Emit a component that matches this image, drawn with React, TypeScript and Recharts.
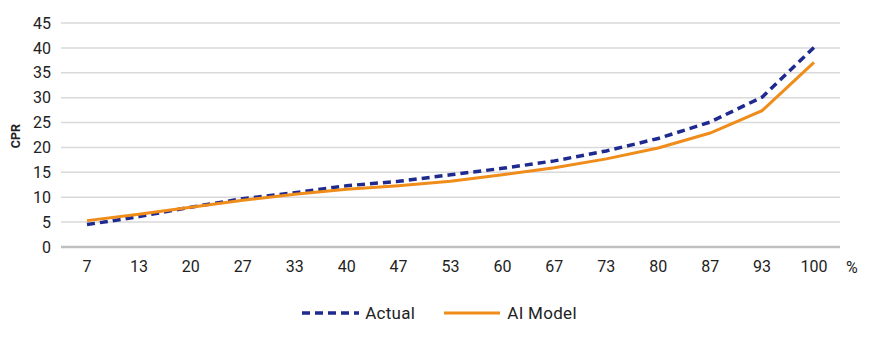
import React from 'react';
import { CartesianGrid, Label, Legend, Line, LineChart, XAxis, YAxis } from 'recharts';

const percentiles = ['7', '13', '20', '27', '33', '40', '47', '53', '60', '67', '73', '80', '87', '93', '100'];
const actual = [4.5, 6.1, 8.0, 9.7, 10.9, 12.3, 13.2, 14.5, 15.8, 17.3, 19.3, 21.8, 25.1, 30.1, 40.1];
const aiModel = [5.3, 6.6, 8.0, 9.4, 10.6, 11.6, 12.3, 13.2, 14.5, 15.9, 17.7, 19.9, 22.9, 27.4, 37.1];
const yTicks = [0, 5, 10, 15, 20, 25, 30, 35, 40, 45];

const navy = '#1f2a8f';
const orange = '#ef8c1a';
const font = 'Roboto, "Noto Sans", sans-serif';

const data = percentiles.map((p, i) => ({ p, actual: actual[i], ai: aiModel[i] }));

const LegendContent = () => (
  <div
    style={{
      height: 52,
      display: 'flex',
      alignItems: 'center',
      justifyContent: 'center',
      paddingLeft: 8,
      fontFamily: font,
      fontSize: 17,
      letterSpacing: 0.3,
      color: '#222',
    }}
  >
    <svg width={57} height={6} style={{ marginRight: 6 }}>
      <line x1={0} y1={3} x2={57} y2={3} stroke={navy} strokeWidth={3.5} strokeDasharray="8 5" />
    </svg>
    <span style={{ marginRight: 29 }}>Actual</span>
    <svg width={56} height={6} style={{ marginRight: 7 }}>
      <line x1={0} y1={3} x2={56} y2={3} stroke={orange} strokeWidth={3} />
    </svg>
    <span>AI Model</span>
  </div>
);

export default function App() {
  return (
    <div style={{ position: 'absolute', left: 0, top: 0, width: 871, height: 355, background: '#fff' }}>
      <LineChart width={871} height={355} data={data} margin={{ top: 23, right: 31, bottom: 16, left: 0 }}>
        <CartesianGrid vertical={false} stroke="#d9d9d9" strokeWidth={1.5} />
        <XAxis
          dataKey="p"
          height={40}
          padding={{ left: 26, right: 26 }}
          tickLine={false}
          tickSize={6}
          tickMargin={8}
          axisLine={{ stroke: '#bfbfbf', strokeWidth: 2.5 }}
          tick={{ fill: '#222', fontSize: 16, fontFamily: font }}
          interval={0}
        >
          <Label
            content={({ viewBox }: any) => (
              <text
                x={viewBox.x + viewBox.width + 6}
                y={273}
                fill="#222"
                fontSize={16}
                fontFamily={font}
              >
                %
              </text>
            )}
          />
        </XAxis>
        <YAxis
          width={61}
          domain={[0, 45]}
          ticks={yTicks}
          interval={0}
          tickLine={false}
          axisLine={false}
          tickSize={6}
          tickMargin={4}
          tick={{ fill: '#222', fontSize: 16, fontFamily: font }}
        >
          <Label
            content={({ viewBox }: any) => {
              const cy = viewBox.y + viewBox.height / 2 + 1;
              return (
                <text
                  x={15}
                  y={cy}
                  transform={`rotate(-90 15 ${cy})`}
                  textAnchor="middle"
                  dominantBaseline="central"
                  fill="#222"
                  fontSize={12.5}
                  fontWeight={700}
                  fontFamily={font}
                >
                  CPR
                </text>
              );
            }}
          />
        </YAxis>
        <Legend verticalAlign="bottom" content={<LegendContent />} wrapperStyle={{ left: 0, width: 871 }} />
        <Line
          type="linear"
          dataKey="actual"
          name="Actual"
          stroke={navy}
          strokeWidth={3.5}
          strokeDasharray="8 5"
          dot={false}
          isAnimationActive={false}
        />
        <Line
          type="linear"
          dataKey="ai"
          name="AI Model"
          stroke={orange}
          strokeWidth={3}
          dot={false}
          isAnimationActive={false}
        />
      </LineChart>
    </div>
  );
}
